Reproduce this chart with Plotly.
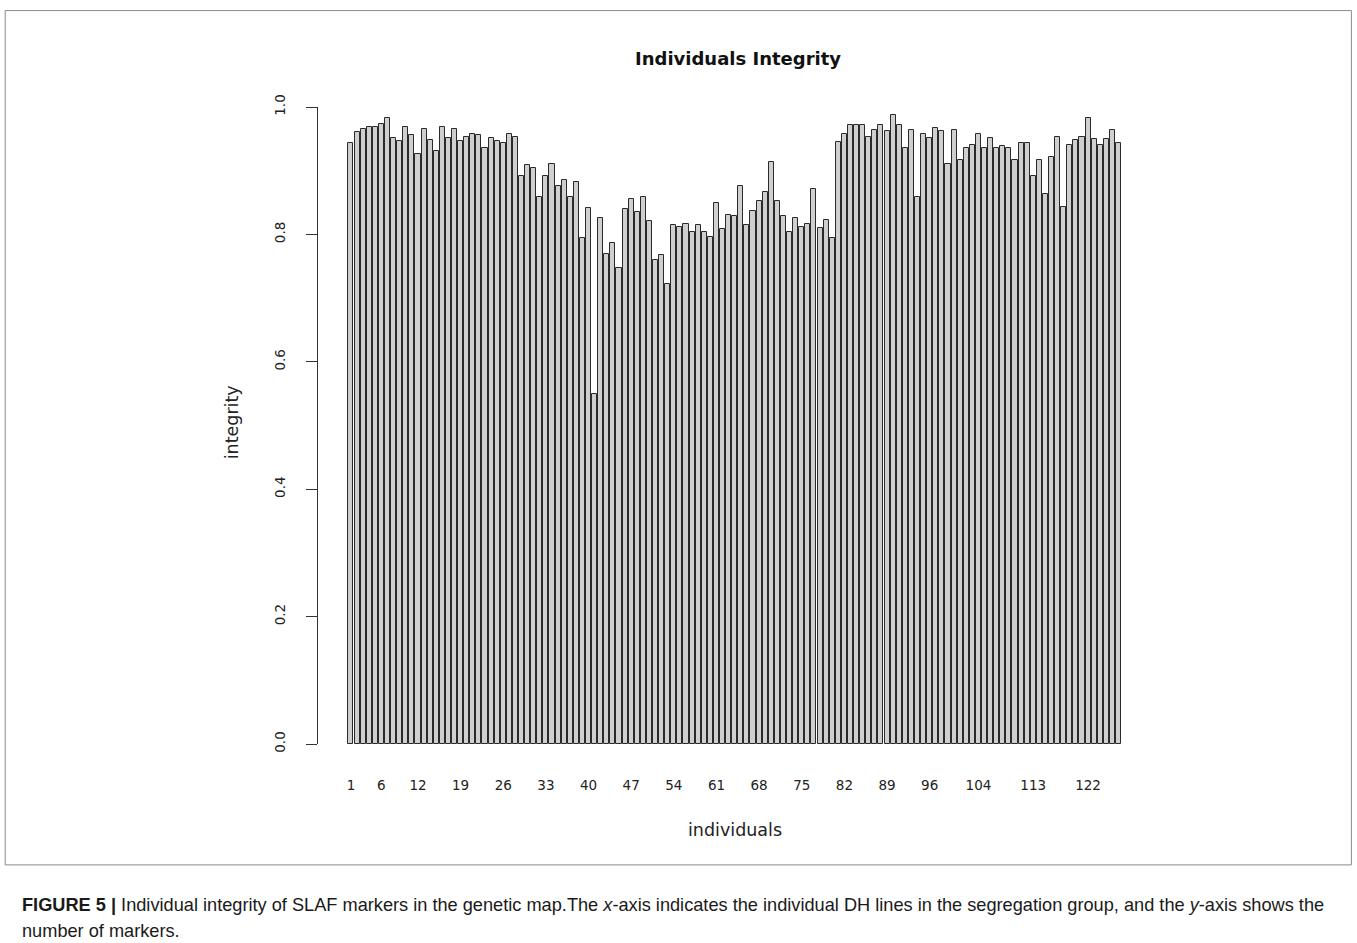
import plotly.graph_objects as go

individuals = list(range(1, 128))
integrity = [
    0.944, 0.961, 0.965, 0.968, 0.969, 0.974, 0.983, 0.951, 0.946, 0.969,
    0.956, 0.926, 0.966, 0.948, 0.931, 0.969, 0.951, 0.965, 0.946, 0.953,
    0.957, 0.956, 0.936, 0.951, 0.946, 0.943, 0.957, 0.953, 0.891, 0.909,
    0.905, 0.858, 0.891, 0.911, 0.876, 0.885, 0.858, 0.883, 0.795, 0.842,
    0.550, 0.826, 0.770, 0.786, 0.748, 0.840, 0.856, 0.835, 0.858, 0.821,
    0.760, 0.768, 0.722, 0.815, 0.812, 0.817, 0.804, 0.814, 0.804, 0.796,
    0.849, 0.808, 0.830, 0.829, 0.876, 0.814, 0.836, 0.852, 0.867, 0.914,
    0.852, 0.829, 0.804, 0.825, 0.812, 0.817, 0.871, 0.810, 0.823, 0.794,
    0.945, 0.957, 0.971, 0.971, 0.971, 0.953, 0.964, 0.971, 0.962, 0.988,
    0.971, 0.936, 0.964, 0.858, 0.957, 0.951, 0.967, 0.962, 0.911, 0.964,
    0.917, 0.935, 0.940, 0.957, 0.936, 0.952, 0.936, 0.938, 0.936, 0.917,
    0.943, 0.944, 0.892, 0.917, 0.863, 0.922, 0.953, 0.843, 0.941, 0.948,
    0.953, 0.983, 0.950, 0.940, 0.950, 0.964, 0.944,
]
x_tick_vals = [1, 6, 12, 19, 26, 33, 40, 47, 54, 61, 68, 75, 82, 89, 96, 104, 113, 122]
y_tick_vals = [0.0, 0.2, 0.4, 0.6, 0.8, 1.0]
y_tick_text = ["0.0", "0.2", "0.4", "0.6", "0.8", "1.0"]

W_PX, H_PX = 1357, 943
L, R, T, B = 318, 1151.5, 106.5, 744
PW, PH = R - L, B - T


def px(x):
    return (x - L) / PW


def py(y):
    return (B - y) / PH


RFONT = "DejaVu Sans, Verdana, sans-serif"
CFONT = "Liberation Sans, Arial, sans-serif"
TXT = "#222222"

fig = go.Figure(
    go.Bar(
        x=individuals,
        y=integrity,
        width=1 / 1.2,
        marker=dict(color="#cfcfcf", line=dict(color="#2a2a2a", width=1)),
        showlegend=False,
        cliponaxis=False,
    )
)

fig.update_layout(
    width=W_PX,
    height=H_PX,
    margin=dict(l=L, r=W_PX - R, t=T, b=H_PX - B, pad=0),
    paper_bgcolor="white",
    plot_bgcolor="white",
    font=dict(family=RFONT, color=TXT, size=13),
    bargap=0,
    xaxis=dict(
        range=[1 - 33 / 6.1, 127 + 32.5 / 6.1],
        tickmode="array",
        tickvals=x_tick_vals,
        ticktext=[str(v) for v in x_tick_vals],
        ticks="",
        showline=False,
        showgrid=False,
        zeroline=False,
        ticklabelstandoff=31,
        tickfont=dict(size=13.5, color=TXT, family=RFONT),
        fixedrange=True,
    ),
    yaxis=dict(
        range=[0, 1.0],
        tickmode="array",
        tickvals=y_tick_vals,
        ticktext=y_tick_text,
        ticks="outside",
        ticklen=11,
        tickwidth=1,
        tickcolor="#333333",
        tickangle=-90,
        showline=True,
        linecolor="#333333",
        linewidth=1,
        showgrid=False,
        zeroline=False,
        ticklabelstandoff=16,
        tickfont=dict(size=13.5, color=TXT, family=RFONT),
        fixedrange=True,
    ),
    shapes=[
        dict(type="rect", xref="paper", yref="paper",
             x0=px(5), x1=px(1352), y0=py(865), y1=py(10),
             line=dict(color="#8a8a8a", width=1), fillcolor="rgba(0,0,0,0)", layer="below"),
    ],
    annotations=[
        dict(text="<b>Individuals Integrity</b>", xref="paper", yref="paper",
             x=px(738), y=py(58), xanchor="center", yanchor="middle", showarrow=False,
             font=dict(size=18, color="#111111", family=RFONT)),
        dict(text="individuals", xref="paper", yref="paper",
             x=px(735), y=py(830), xanchor="center", yanchor="middle", showarrow=False,
             font=dict(size=17.5, color=TXT, family=RFONT)),
        dict(text="integrity", xref="paper", yref="paper", textangle=-90,
             x=px(232), y=py(422), xanchor="center", yanchor="middle", showarrow=False,
             font=dict(size=17.5, color=TXT, family=RFONT)),
        dict(text="<b>FIGURE 5 |</b> Individual integrity of SLAF markers in the genetic map.The <i>x</i>-axis indicates the individual DH lines in the segregation group, and the <i>y</i>-axis shows the",
             xref="paper", yref="paper", x=px(20), y=py(905), xanchor="left", yanchor="middle",
             showarrow=False, font=dict(size=18.2, color="#1a1a1a", family=CFONT)),
        dict(text="number of markers.",
             xref="paper", yref="paper", x=px(20), y=py(931), xanchor="left", yanchor="middle",
             showarrow=False, font=dict(size=18.2, color="#1a1a1a", family=CFONT)),
    ],
)

fig.write_html("out.html")
